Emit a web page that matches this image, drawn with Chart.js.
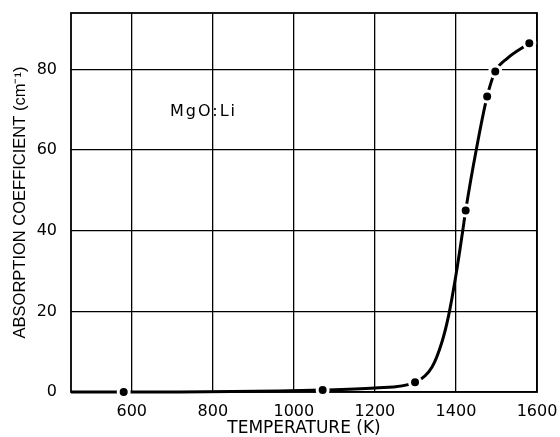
<!DOCTYPE html>
<html>
<head>
<meta charset="utf-8">
<script src="https://cdn.jsdelivr.net/npm/chart.js@4"></script>
<style>
  html, body { margin: 0; padding: 0; background: #fff; }
  #wrap { width: 560px; height: 437px; }
</style>
</head>
<body>
<div id="wrap"><canvas id="absChart"></canvas></div>
<script>
// tick positions on both axes
const tempTicks = [600, 800, 1000, 1200, 1400, 1600];
const coefTicks = [0, 20, 40, 60, 80];

// measured points (dots)
const measuredTemp = [580, 1071, 1299, 1424, 1477, 1497, 1581];
const measuredCoef = [0, 0.5, 2.4, 45, 73.3, 79.5, 86.5];

// hand drawn curve
const curveTemp = [450, 580, 1071, 1200, 1299, 1341, 1366, 1382, 1400, 1416, 1424, 1450, 1477, 1497, 1526, 1581];
const curveCoef = [0, 0, 0.5, 1.0, 2.4, 6.2, 12.6, 19, 29, 39.5, 45, 60, 73.3, 79.5, 82.7, 86.5];

const label = { text: 'MgO:Li', x: 777, y: 69.5 };

const toPoints = (xs, ys) => xs.map((x, i) => ({ x: x, y: ys[i] }));

// frame round the plot + the sample label
const framePlugin = {
  id: 'frame',
  beforeDatasetsDraw(chart) {
    const { ctx, chartArea: a } = chart;
    ctx.save();
    ctx.strokeStyle = '#000';
    ctx.lineWidth = 1.8;
    ctx.strokeRect(a.left, a.top, a.right - a.left, a.bottom - a.top);
    ctx.restore();
  },
  afterDatasetsDraw(chart) {
    const { ctx, scales } = chart;
    ctx.save();
    ctx.font = '16px "DejaVu Sans"';
    ctx.letterSpacing = '2px';
    ctx.fillStyle = '#000';
    ctx.textAlign = 'center';
    ctx.textBaseline = 'middle';
    ctx.fillText(label.text, scales.x.getPixelForValue(label.x), scales.y.getPixelForValue(label.y));
    ctx.restore();
  }
};

const tickFont = { family: 'DejaVu Sans', size: 16 };

// no extra room for edge labels, layout padding decides the plot box
const noEdgePad = s => { s.paddingTop = 0; s.paddingBottom = 0; s.paddingLeft = 0; s.paddingRight = 0; };

new Chart(document.getElementById('absChart'), {
  type: 'scatter',
  data: {
    datasets: [
      {
        data: toPoints(measuredTemp, measuredCoef),
        pointRadius: 5.5,
        pointBackgroundColor: '#000',
        pointBorderColor: '#fff',
        pointBorderWidth: 3,
        showLine: false,
        clip: false,
        order: 0
      },
      {
        data: toPoints(curveTemp, curveCoef),
        showLine: true,
        borderColor: '#000',
        borderWidth: 3,
        pointRadius: 0,
        cubicInterpolationMode: 'monotone',
        clip: false,
        order: 1
      }
    ]
  },
  options: {
    responsive: true,
    maintainAspectRatio: false,
    animation: false,
    layout: { padding: { left: 0, top: 13, right: 23, bottom: 0 } },
    plugins: { legend: { display: false }, tooltip: { enabled: false } },
    scales: {
      x: {
        type: 'linear',
        min: 450,
        max: 1600,
        afterBuildTicks: s => { s.ticks = tempTicks.map(v => ({ value: v })); },
        afterFit: s => { s.height = 45; noEdgePad(s); },
        grid: { color: '#000', lineWidth: 1.3, drawTicks: false },
        border: { display: false },
        ticks: { color: '#000', font: tickFont, padding: 10, maxRotation: 0, callback: v => String(v) },
        title: {
          display: true, text: 'TEMPERATURE (K)', color: '#000', padding: 0,
          font: { family: 'DejaVu Sans', size: 17, lineHeight: 1 }
        }
      },
      y: {
        min: 0,
        max: 94,
        afterBuildTicks: s => { s.ticks = coefTicks.map(v => ({ value: v })); },
        afterFit: s => { s.width = 71; noEdgePad(s); },
        grid: { color: '#000', lineWidth: 1.3, drawTicks: false },
        border: { display: false },
        ticks: { color: '#000', font: tickFont, padding: 14, callback: v => String(v) },
        title: {
          display: true, text: 'ABSORPTION COEFFICIENT (cm⁻¹)', color: '#000', padding: { top: 12, bottom: 0 },
          font: { family: 'Liberation Sans', size: 16.5, lineHeight: 1 }
        }
      }
    }
  },
  plugins: [framePlugin]
});
</script>
</body>
</html>
